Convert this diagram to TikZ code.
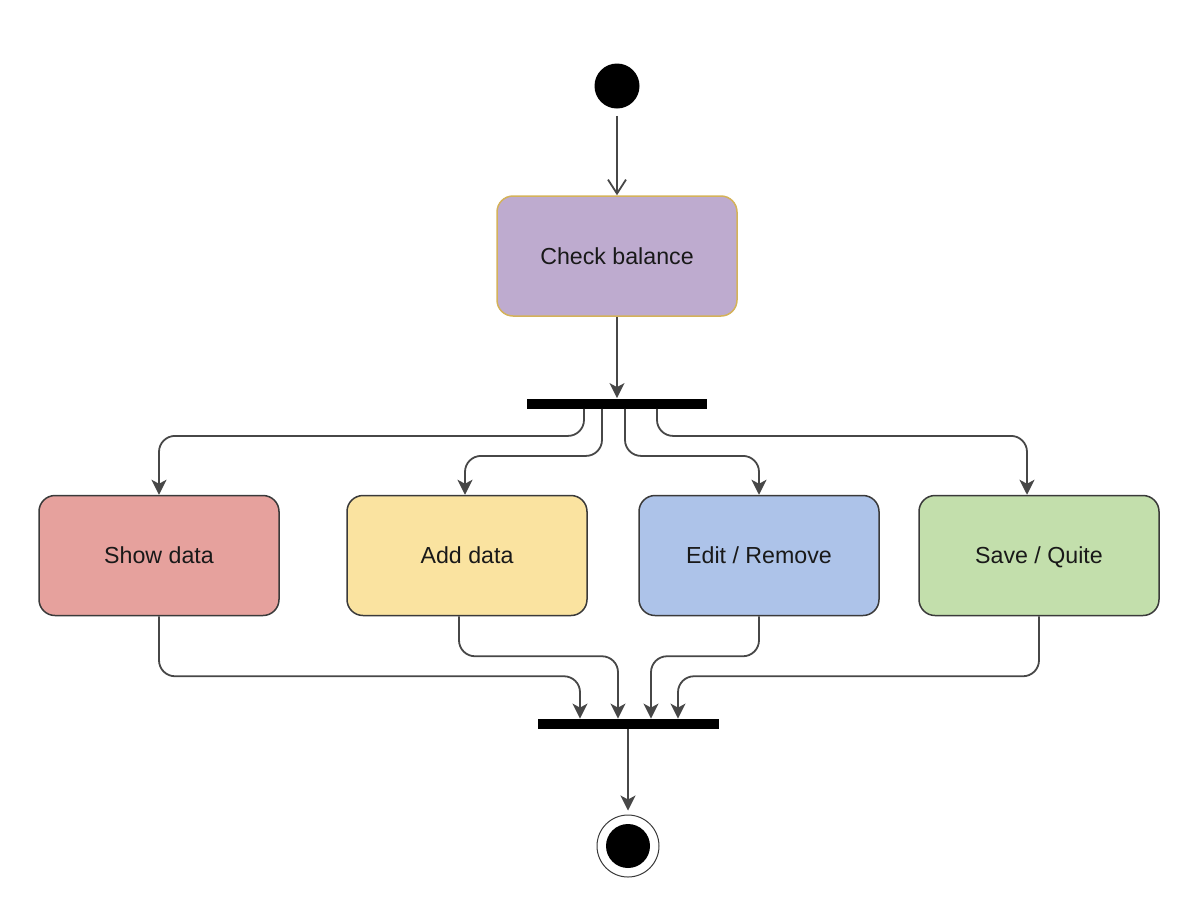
\documentclass[tikz,border=0pt]{standalone}
\usepackage{fontspec}
\setmainfont{Liberation Sans}
\usetikzlibrary{arrows.meta,calc}
\definecolor{cpurple}{HTML}{BEABCF}
\definecolor{cgold}{HTML}{D4B25A}
\definecolor{cred}{HTML}{E6A19D}
\definecolor{cyellow}{HTML}{FAE3A0}
\definecolor{cblue}{HTML}{ADC3E9}
\definecolor{cgreen}{HTML}{C3DFAC}
\definecolor{cline}{HTML}{474747}
\definecolor{cborder}{HTML}{3A3A3A}
\begin{document}
\begin{tikzpicture}[x=0.5pt,y=-0.5pt,
  actbox/.style={draw=cborder, line width=0.75pt, rounded corners=8pt,
    minimum width=120pt, minimum height=60pt, inner sep=0pt,
    text height=9.5pt, text depth=1.5pt,
    font=\fontsize{11.6}{14}\selectfont, text=black!90},
  bar/.style={fill=black, draw=none, minimum height=5pt, inner sep=0pt},
  conn/.style={draw=cline, line width=0.9pt, -{Stealth[length=7.5pt,width=7.5pt,inset=2pt]}},
  elbow/.style={conn, rounded corners=8pt}]
\useasboundingbox (0,0) rectangle (1201,918);

\node[circle, fill=black, minimum size=22.5pt, inner sep=0pt] (start) at (617,86) {};
\node[actbox, fill=cpurple, draw=cgold] (check) at (617,256) {Check balance};
\node[bar, minimum width=90pt] (fork) at (617,403.5) {};
\node[actbox, fill=cred] (show) at (159,555.5) {Show data};
\node[actbox, fill=cyellow] (add) at (467,555.5) {Add data};
\node[actbox, fill=cblue] (edit) at (759,555.5) {Edit / Remove};
\node[actbox, fill=cgreen] (save) at (1039,555.5) {Save / Quite};
\node[bar, minimum width=90.5pt] (join) at (628,724) {};
\node[circle, draw=cborder, line width=0.5pt, minimum size=31pt, inner sep=0pt] (endo) at (628,846) {};
\node[circle, fill=black, minimum size=22pt, inner sep=0pt] (endi) at (628,846) {};

\draw[draw=cline, line width=0.9pt, shorten <=3.5pt, -{Straight Barb[length=7pt,width=9pt,line width=0.9pt]}] (start.south) -- (check.north);
\draw[conn] (check.south) -- (fork.north);

\draw[elbow] ($(fork.south)+(-33,0)$) -- ++(0,27) -| (show.north);
\draw[elbow] ($(fork.south)+(-15,0)$) -- ++(0,47) -| ($(add.north)+(-2,0)$);
\draw[elbow] ($(fork.south)+(8,0)$) -- ++(0,47) -| (edit.north);
\draw[elbow] ($(fork.south)+(40,0)$) -- ++(0,27) -| ($(save.north)+(-12,0)$);

\draw[elbow] (show.south) -- ++(0,60) -| ($(join.north)+(-48,0)$);
\draw[elbow] ($(add.south)+(-8,0)$) -- ++(0,40) -| ($(join.north)+(-10,0)$);
\draw[elbow] (edit.south) -- ++(0,40) -| ($(join.north)+(23,0)$);
\draw[elbow] (save.south) -- ++(0,60) -| ($(join.north)+(50,0)$);

\draw[conn, shorten >=2pt] (join.south) -- (endo.north);
\end{tikzpicture}
\end{document}
